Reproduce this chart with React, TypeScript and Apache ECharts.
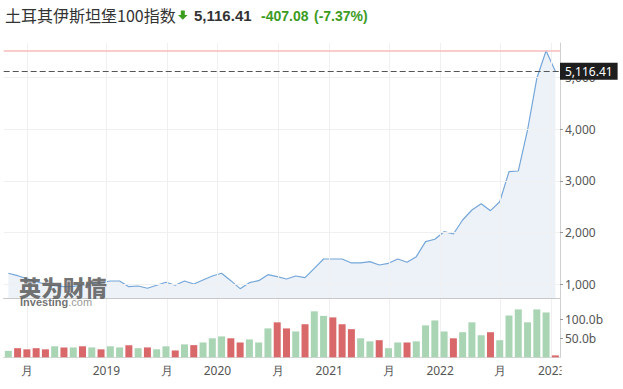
import React, { useEffect, useRef } from "react";
import * as echarts from "echarts";

const months = [
  "2018-02", "2018-03", "2018-04", "2018-05", "2018-06", "2018-07", "2018-08", "2018-09", "2018-10", "2018-11", "2018-12",
  "2019-01", "2019-02", "2019-03", "2019-04", "2019-05", "2019-06", "2019-07", "2019-08", "2019-09", "2019-10", "2019-11", "2019-12",
  "2020-01", "2020-02", "2020-03", "2020-04", "2020-05", "2020-06", "2020-07", "2020-08", "2020-09", "2020-10", "2020-11", "2020-12",
  "2021-01", "2021-02", "2021-03", "2021-04", "2021-05", "2021-06", "2021-07", "2021-08", "2021-09", "2021-10", "2021-11", "2021-12",
  "2022-01", "2022-02", "2022-03", "2022-04", "2022-05", "2022-06", "2022-07", "2022-08", "2022-09", "2022-10", "2022-11", "2022-12",
  "2023-01",
];

const closeValues = [
  1213, 1166, 1110, 1050, 1000, 975, 955, 960, 985, 1010, 1031,
  1064, 1064, 954, 967, 923, 981, 1039, 981, 1064, 1006, 1083, 1160,
  1213, 1070, 916, 1031, 1070, 1186, 1147, 1102, 1160, 1128, 1309, 1489,
  1489, 1489, 1412, 1412, 1437, 1373, 1405, 1489, 1425, 1534, 1824, 1870,
  2017, 1972, 2243, 2436, 2558, 2423, 2596, 3176, 3189, 3982, 4981, 5514,
  5116.41,
];

const volumeValues = [
  17, 24, 21, 24, 21, 29, 26, 26, 29, 26, 21,
  29, 26, 32, 24, 26, 21, 29, 18, 34, 32, 39,
  50, 55, 50, 39, 47, 39, 76, 92, 76, 68, 87,
  121, 109, 105, 87, 74, 50, 42, 45, 24, 39, 39,
  42, 84, 97, 68, 50, 66, 92, 58, 66, 45, 110,
  126, 92, 126, 118, 5,
];

const volumeDirection = [
  "u", "d", "d", "d", "d", "u", "d", "u", "d", "u", "d",
  "u", "u", "d", "u", "d", "u", "u", "d", "u", "d", "u",
  "u", "u", "d", "d", "u", "u", "u", "d", "d", "u", "d",
  "u", "u", "d", "d", "d", "u", "u", "d", "u", "u", "d",
  "u", "u", "u", "u", "d", "u", "u", "u", "d", "u", "u",
  "u", "u", "u", "u", "d",
];

const xTickPositions = [2.0, 10.58, 17.1, 22.55, 29.1, 34.6, 41.1, 46.57, 53.05, 58.6];
const xTickLabels = ["月", "2019", "月", "2020", "月", "2021", "月", "2022", "月", "2023"];
const priceTicks = [1000, 2000, 3000, 4000, 5000];
const volumeTicks = [50, 100];
const lastPrice = 5116.41;

const headerTitle = "土耳其伊斯坦堡100指数";
const headerPrice = "5,116.41";
const headerChange = "-407.08";
const headerChangePct = "(-7.37%)";

const GREEN = "#3c9c1e";
const AXIS_FONT = "Noto Sans";
const GRID_COLOR = "#f0f0f0";

export default function App() {
  const ref = useRef<HTMLDivElement>(null);

  useEffect(() => {
    if (!ref.current) return;
    const chart = echarts.init(ref.current, undefined, { renderer: "svg" });

    const fmtThousands = (v: number) =>
      v.toLocaleString("en-US", { maximumFractionDigits: 2, minimumFractionDigits: 0 });

    const gridLineStyle = { color: GRID_COLOR, type: "solid", width: 1 };

    const option: any = {
      animation: false,
      backgroundColor: "#ffffff",
      grid: [
        { left: 3.7, right: 63, top: 43, height: 255 },
        { left: 3.7, right: 63, top: 299, height: 58.3 },
      ],
      xAxis: [
        {
          type: "value",
          gridIndex: 0,
          min: -0.5,
          max: 59.5,
          axisLine: { show: true, onZero: false, lineStyle: { color: "#c8c8c8", width: 1 } },
          axisTick: { show: false },
          axisLabel: { show: false },
          splitLine: { show: false },
        },
        {
          type: "value",
          gridIndex: 1,
          min: -0.5,
          max: 59.5,
          axisLine: { show: true, onZero: false, lineStyle: { color: "#d6d6d6", width: 1 } },
          axisTick: { show: false, customValues: xTickPositions },
          axisLabel: {
            show: true,
            customValues: xTickPositions,
            color: "#555555",
            fontFamily: AXIS_FONT,
            fontSize: 12,
            margin: 7,
            formatter: (v: number) => {
              const j = xTickPositions.findIndex((p) => Math.abs(p - v) < 1e-6);
              return j >= 0 ? xTickLabels[j] : "";
            },
          },
          splitLine: { show: false },
        },
      ],
      yAxis: [
        {
          type: "value",
          gridIndex: 0,
          position: "right",
          min: 735,
          max: 5663,
          axisLine: { show: true, onZero: false, lineStyle: { color: "#d0d0d0" } },
          axisTick: { show: true, length: 3, customValues: priceTicks, lineStyle: { color: "#999" } },
          axisLabel: {
            show: true,
            customValues: priceTicks,
            color: "#555555",
            fontFamily: AXIS_FONT,
            fontSize: 12,
            margin: 5,
            formatter: (v: number) => fmtThousands(v),
          },
          splitLine: { show: false },
        },
        {
          type: "value",
          gridIndex: 1,
          position: "right",
          min: 0,
          max: 153.4,
          axisLine: { show: true, onZero: false, lineStyle: { color: "#d0d0d0" } },
          axisTick: { show: true, length: 3, customValues: volumeTicks, lineStyle: { color: "#999" } },
          axisLabel: {
            show: true,
            customValues: volumeTicks,
            color: "#555555",
            fontFamily: AXIS_FONT,
            fontSize: 12,
            margin: 5,
            formatter: (v: number) => v.toFixed(1) + "b",
          },
          splitLine: { show: false },
        },
      ],
      series: [
        {
          type: "line",
          name: "close",
          xAxisIndex: 0,
          yAxisIndex: 0,
          data: closeValues.map((v, i) => [i, v]),
          symbol: "none",
          lineStyle: { color: "#74a6d9", width: 1.2 },
          areaStyle: { color: "#e5edf6", origin: "start" },
          z: 2,
          markLine: {
            silent: true,
            symbol: ["none", "none"],
            animation: false,
            data: [
              ...xTickPositions.map((p) => ({ xAxis: p, lineStyle: gridLineStyle, label: { show: false } })),
              ...priceTicks.map((v) => ({ yAxis: v, lineStyle: gridLineStyle, label: { show: false } })),
              {
                type: "max",
                lineStyle: { color: "#f7bcbc", type: "solid", width: 1.6 },
                label: { show: false },
              },
              {
                yAxis: lastPrice,
                lineStyle: { color: "#555555", type: [6, 3], width: 1 },
                label: {
                  show: true,
                  position: "end",
                  distance: 0,
                  formatter: () => fmtThousands(lastPrice),
                  color: "#ffffff",
                  backgroundColor: "#1e1e1e",
                  padding: [3, 5, 2, 5],
                  fontFamily: AXIS_FONT,
                  fontSize: 12,
                },
              },
            ],
          },
        },
        {
          type: "bar",
          name: "volume",
          xAxisIndex: 1,
          yAxisIndex: 1,
          barWidth: 7,
          z: 10,
          data: volumeValues.map((v, i) => ({
            value: [i, v],
            name: months[i],
            itemStyle: { color: volumeDirection[i] === "u" ? "#a9d5b5" : "#d9686a" },
          })),
          markLine: {
            silent: true,
            symbol: ["none", "none"],
            animation: false,
            z: 1,
            data: xTickPositions.map((p) => ({ xAxis: p, lineStyle: gridLineStyle, label: { show: false } })),
          },
        },
      ],
      graphic: [
        {
          type: "text",
          x: 5,
          y: 15,
          z: 100,
          style: {
            text: headerTitle,
            fill: "#333333",
            font: '16px "Noto Sans CJK SC"',
            verticalAlign: "middle",
          },
        },
        {
          type: "polygon",
          z: 100,
          shape: {
            points: [
              [180.8, 10.5],
              [184.8, 10.5],
              [184.8, 15],
              [187.6, 15],
              [182.8, 19.8],
              [178, 15],
              [180.8, 15],
            ],
          },
          style: { fill: GREEN },
        },
        {
          type: "text",
          x: 194,
          y: 15,
          z: 100,
          style: {
            text: headerPrice,
            fill: "#333333",
            font: 'bold 15px "Liberation Sans"',
            verticalAlign: "middle",
          },
        },
        {
          type: "text",
          x: 261,
          y: 15.5,
          z: 100,
          style: {
            text: headerChange,
            fill: GREEN,
            font: 'bold 14px "Liberation Sans"',
            verticalAlign: "middle",
          },
        },
        {
          type: "text",
          x: 314,
          y: 15.5,
          z: 100,
          style: {
            text: headerChangePct,
            fill: GREEN,
            font: 'bold 14px "Liberation Sans"',
            verticalAlign: "middle",
          },
        },
        {
          type: "text",
          x: 19,
          y: 286,
          z: 100,
          style: {
            text: "英为财情",
            fill: "rgba(95,95,95,0.9)",
            font: '900 22px "Noto Sans CJK SC"',
            verticalAlign: "middle",
          },
        },
        {
          type: "text",
          x: 20,
          y: 301.5,
          z: 100,
          style: {
            text: "{a|Investing}{b|.com}",
            verticalAlign: "middle",
            rich: {
              a: { fill: "rgba(95,95,95,0.9)", font: 'bold 11px "Liberation Sans"' },
              b: { fill: "rgba(140,140,140,0.9)", font: '11px "Liberation Sans"' },
            },
          },
        },
        {
          type: "rect",
          z: 100,
          shape: { x: 561.6, y: 362, width: 62, height: 20 },
          style: { fill: "#ffffff" },
        },
      ],
    };

    chart.setOption(option);
    return () => chart.dispose();
  }, []);

  return (
    <div
      ref={ref}
      style={{ position: "fixed", left: 0, top: 0, width: 623, height: 389, background: "#fff" }}
    />
  );
}
